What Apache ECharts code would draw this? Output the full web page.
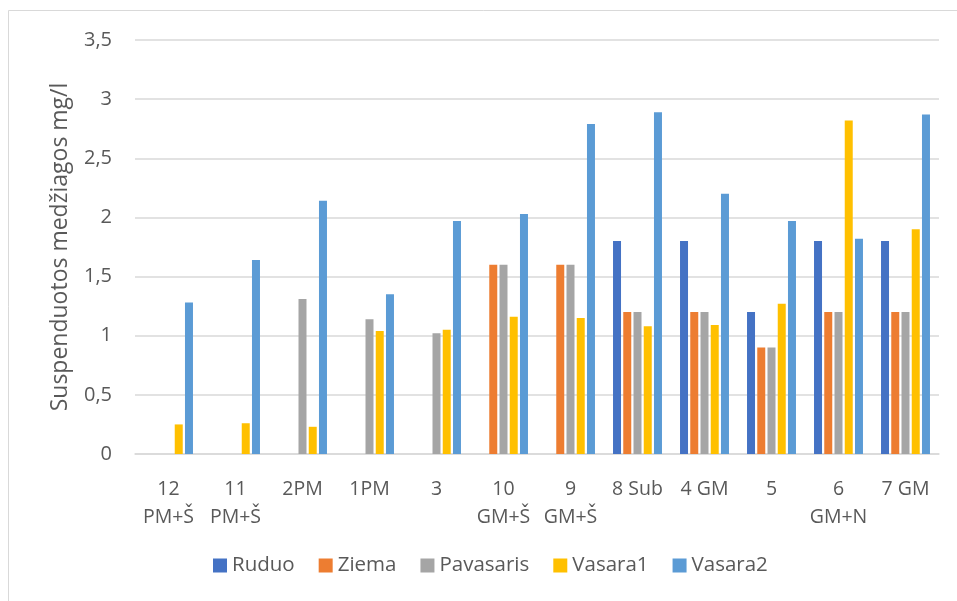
<!DOCTYPE html>
<html>
<head>
<meta charset="utf-8">
<script src="https://cdn.jsdelivr.net/npm/echarts@6/dist/echarts.min.js"></script>
<style>
html,body{margin:0;padding:0;background:#fff;}
#c{width:957px;height:601px;}
</style>
</head>
<body>
<div id="c"></div>
<script>
const categories = ["12\nPM+Š", "11\nPM+Š", "2PM", "1PM", "3", "10\nGM+Š", "9\nGM+Š", "8 Sub", "4 GM", "5", "6\nGM+N", "7 GM"];
const ruduo     = [0, 0, 0, 0, 0, 0, 0, 1.8, 1.8, 1.2, 1.8, 1.8];
const ziema     = [0, 0, 0, 0, 0, 1.6, 1.6, 1.2, 1.2, 0.9, 1.2, 1.2];
const pavasaris = [0, 0, 1.31, 1.14, 1.02, 1.6, 1.6, 1.2, 1.2, 0.9, 1.2, 1.2];
const vasara1   = [0.25, 0.26, 0.23, 1.04, 1.05, 1.16, 1.15, 1.08, 1.09, 1.27, 2.82, 1.9];
const vasara2   = [1.28, 1.64, 2.14, 1.35, 1.97, 2.03, 2.79, 2.89, 2.2, 1.97, 1.82, 2.87];
const seriesNames = ["Ruduo", "Ziema", "Pavasaris", "Vasara1", "Vasara2"];
const colors = ["#4472C4", "#ED7D31", "#A5A5A5", "#FFC000", "#5B9BD5"];

const FONT = "'Open Sans', 'Noto Sans', sans-serif";
const TXT = "#595959";
const chart = echarts.init(document.getElementById('c'), null, {renderer: 'canvas'});
const datas = [ruduo, ziema, pavasaris, vasara1, vasara2];
chart.setOption({
  animation: false,
  backgroundColor: '#fff',
  color: colors,
  textStyle: {fontFamily: FONT},
  graphic: [{
    type: 'rect', silent: true,
    shape: {x: 8.5, y: 10.5, width: 1000, height: 1000},
    style: {fill: 'none', stroke: '#d9d9d9', lineWidth: 1}
  }],
  grid: {left: 135, right: 18, top: 40, bottom: 147},
  legend: {
    left: 213, top: 555, padding: 0,
    itemWidth: 14, itemHeight: 14, itemGap: 24,
    icon: 'rect',
    textStyle: {fontFamily: FONT, fontSize: 20.5, color: TXT},
    data: seriesNames
  },
  xAxis: {
    type: 'category',
    data: categories,
    axisLine: {lineStyle: {color: '#d9d9d9', width: 1.5}},
    axisTick: {show: false},
    axisLabel: {interval: 0, margin: 21, fontFamily: FONT, fontSize: 19.5, color: TXT, lineHeight: 28}
  },
  yAxis: {
    type: 'value', min: 0, max: 3.5, interval: 0.5,
    name: 'Suspenduotos medžiagos mg/l',
    nameLocation: 'middle', nameGap: 63,
    nameTextStyle: {fontFamily: FONT, fontSize: 23, color: TXT},
    axisLine: {show: false},
    axisTick: {show: false},
    splitLine: {lineStyle: {color: '#d9d9d9', width: 1.5}},
    axisLabel: {margin: 23, fontFamily: FONT, fontSize: 20, color: TXT,
      formatter: v => String(v).replace('.', ',')}
  },
  series: seriesNames.map((n, i) => ({
    name: n, type: 'bar', data: datas[i],
    barWidth: 8, barGap: '28%',
    itemStyle: {color: colors[i]}
  }))
});
</script>
</body>
</html>
